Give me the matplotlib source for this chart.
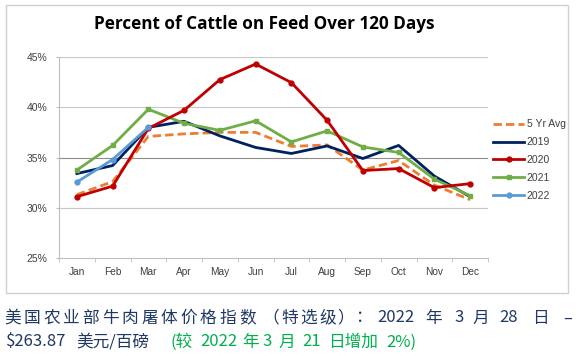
import matplotlib
matplotlib.use('Agg')
import matplotlib.pyplot as plt
from matplotlib.patches import Rectangle

months = ['Jan', 'Feb', 'Mar', 'Apr', 'May', 'Jun', 'Jul', 'Aug', 'Sep', 'Oct', 'Nov', 'Dec']
avg5 = [31.3, 32.6, 37.1, 37.35, 37.5, 37.5, 36.1, 36.25, 33.75, 34.7, 32.25, 30.8]
y2019 = [33.4, 34.2, 38.0, 38.6, 37.15, 36.0, 35.4, 36.15, 34.9, 36.2, 33.15, 31.1]
y2020 = [31.1, 32.15, 37.9, 39.7, 42.75, 44.3, 42.45, 38.7, 33.7, 33.9, 32.0, 32.4]
y2021 = [33.75, 36.2, 39.8, 38.4, 37.7, 38.65, 36.55, 37.65, 36.05, 35.5, 32.85, 31.2]
y2022 = [32.55, 34.8, 38.0]
yticks = [25, 30, 35, 40, 45]

cjk = ['Noto Sans CJK SC', 'DejaVu Sans']
navy_text = '#1f3864'
green_text = '#00b050'
W, H = 576, 356

fig = plt.figure(figsize=(5.76, 3.56), dpi=100)
fig.patch.set_facecolor('white')

# chart frame
fig.patches.append(Rectangle((6 / W, 1 - 293 / H), 562 / W, 288 / H,
                             transform=fig.transFigure, fill=False,
                             edgecolor='#d0d0d0', lw=1))

ax = fig.add_axes([59 / W, 1 - 258 / H, 429 / W, 201 / H])
x = list(range(len(months)))

ax.plot(x, avg5, color='#ed7d31', lw=2, ls=(0, (3, 1.5)), label='5 Yr Avg', zorder=3)
ax.plot(x, y2019, color='#002060', lw=2, label='2019', zorder=3)
ax.plot(x, y2020, color='#c00000', lw=2, marker='o', ms=3.5, label='2020', zorder=4)
ax.plot(x, y2021, color='#70ad47', lw=2, marker='s', ms=3.5, label='2021', zorder=3)
ax.plot(x[:len(y2022)], y2022, color='#5b9bd5', lw=2, marker='o', ms=3.5, label='2022', zorder=5)

ax.set_xlim(-0.5, 11.5)
ax.set_ylim(25, 45)
ax.set_yticks(yticks)
ax.set_yticklabels([f'{v}%' for v in yticks], family='Liberation Sans')
ax.set_xticks(x)
ax.set_xticklabels(months, family='Liberation Sans')
ax.set_xticks([i - 0.5 for i in range(13)], minor=True)
ax.tick_params(axis='x', which='major', length=0, pad=6.5, labelsize=7.3, labelcolor='#404040')
ax.tick_params(axis='x', which='minor', length=3, color='#bfbfbf', direction='out')
ax.tick_params(axis='y', length=2.5, color='#bfbfbf', labelsize=7.5, labelcolor='#404040', pad=6)
for v in yticks[1:]:
    ax.axhline(v, color='#8c8c8c' if v == 35 else '#c8c8c8', lw=0.8, zorder=1)
for s in ['top', 'right']:
    ax.spines[s].set_visible(False)
for s in ['left', 'bottom']:
    ax.spines[s].set_color('#bfbfbf')
    ax.spines[s].set_linewidth(0.8)

leg = ax.legend(loc='center left', bbox_to_anchor=((493 - 59) / 429, (258 - 160) / 201),
                frameon=False, prop={'family': 'Liberation Sans', 'size': 7.5},
                handlelength=3.0, labelspacing=0.75, handletextpad=0.25,
                borderaxespad=0, borderpad=0)
for t in leg.get_texts():
    t.set_color('#404040')

fig.text(264 / W, 1 - 24 / H, 'Percent of Cattle on Feed Over 120 Days',
         ha='center', va='center', fontsize=12.3, fontweight='bold',
         family='Open Sans', color='black')

# caption below the chart: first line is justified, so its characters are spread out
head = '美国农业部牛肉屠体价格指数'
line1 = [(ch, 4 + i * 19.6) for i, ch in enumerate(head)]
line1 += [('（', 262), ('特', 281), ('选', 300), ('级', 319), ('）', 337), ('：', 355),
          ('2022', 377), ('年', 425), ('3', 454), ('月', 472), ('28', 499),
          ('日', 532), ('–', 563)]
line2 = [('$263.87', 6, navy_text), ('美元/百磅', 76, navy_text),
         ('(较', 171, green_text), ('2022', 200, green_text), ('年', 242, green_text),
         ('3', 262, green_text), ('月', 278, green_text), ('21', 302, green_text),
         ('日增加', 328, green_text), ('2%)', 386, green_text)]
for txt, px in line1:
    fig.text(px / W, 1 - 318 / H, txt, ha='left', va='center', fontsize=12,
             family=cjk, color=navy_text)
for txt, px, c in line2:
    fig.text(px / W, 1 - 342 / H, txt, ha='left', va='center', fontsize=12,
             family=cjk, color=c)

fig.savefig('out.png', dpi=100, facecolor='white')
